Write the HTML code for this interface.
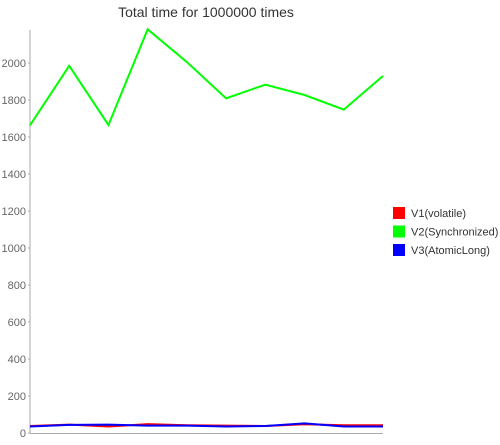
<!DOCTYPE html>
<html><head><meta charset="utf-8"><style>
body{margin:0;background:#fff;font-family:"Liberation Sans",Arial,sans-serif}
svg text{font-family:"Liberation Sans",Arial,sans-serif}
</style></head><body>
<svg id="chart" width="500" height="440">
<text x="206" y="17" text-anchor="middle" font-size="14" fill="#333">Total time for 1000000 times</text>
<g id="yaxis"></g>
<g id="series"></g>
<g id="legend"></g>
</svg>
<script>
const categories=[1,2,3,4,5,6,7,8,9,10];
const v1=[38,45,35,48,42,40,38,47,42,42];
const v2=[1663,1985,1665,2182,2005,1809,1883,1827,1748,1930];
const v3=[35,44,45,40,40,35,38,52,35,35];
const seriesNames=["V1(volatile)","V2(Synchronized)","V3(AtomicLong)"];
const seriesColors=["#ff0000","#00ff00","#0000ff"];
const yTicks=[0,200,400,600,800,1000,1200,1400,1600,1800,2000];
const ns="http://www.w3.org/2000/svg";
const X0=30,X1=383,Y0=433,K=0.185;
const xs=i=>X0+(X1-X0)*i/(categories.length-1);
const ys=v=>Y0-v*K;
function mk(t,a,p){const e=document.createElementNS(ns,t);for(const k in a)e.setAttribute(k,a[k]);p.appendChild(e);return e;}
const ya=document.getElementById('yaxis');
let l=mk('line',{x1:X0,y1:30,x2:X0,y2:Y0,stroke:'#aaa','stroke-width':1},ya);


l=mk('line',{x1:X0,y1:Y0+0.5,x2:X1,y2:Y0+0.5,stroke:'#aaa','stroke-width':1},ya);


yTicks.forEach(v=>{
 const t=mk('text',{x:X0-4,y:ys(v)+4,'text-anchor':'end','font-size':11,fill:'#666'},ya);
 t.textContent=v;
 
 
 const tk=mk('line',{x1:X0-2,y1:ys(v),x2:X0,y2:ys(v),stroke:'#aaa'},ya);
 
 
});
const sg=document.getElementById('series');
[v1,v2,v3].forEach((d,si)=>{
 const p=mk('polyline',{points:d.map((v,i)=>xs(i)+','+ys(v)).join(' '),fill:'none',stroke:seriesColors[si],'stroke-width':2},sg);
 
 
});
const lg=document.getElementById('legend');
seriesNames.forEach((n,i)=>{
 const y=207+i*18.5;
 const r=mk('rect',{x:393,y:y,width:12,height:12,fill:seriesColors[i]},lg);
 
 
 const t=mk('text',{x:411,y:y+10,'font-size':11,fill:'#333'},lg);
 t.textContent=n;
 
 
});
</script>
</body></html>
